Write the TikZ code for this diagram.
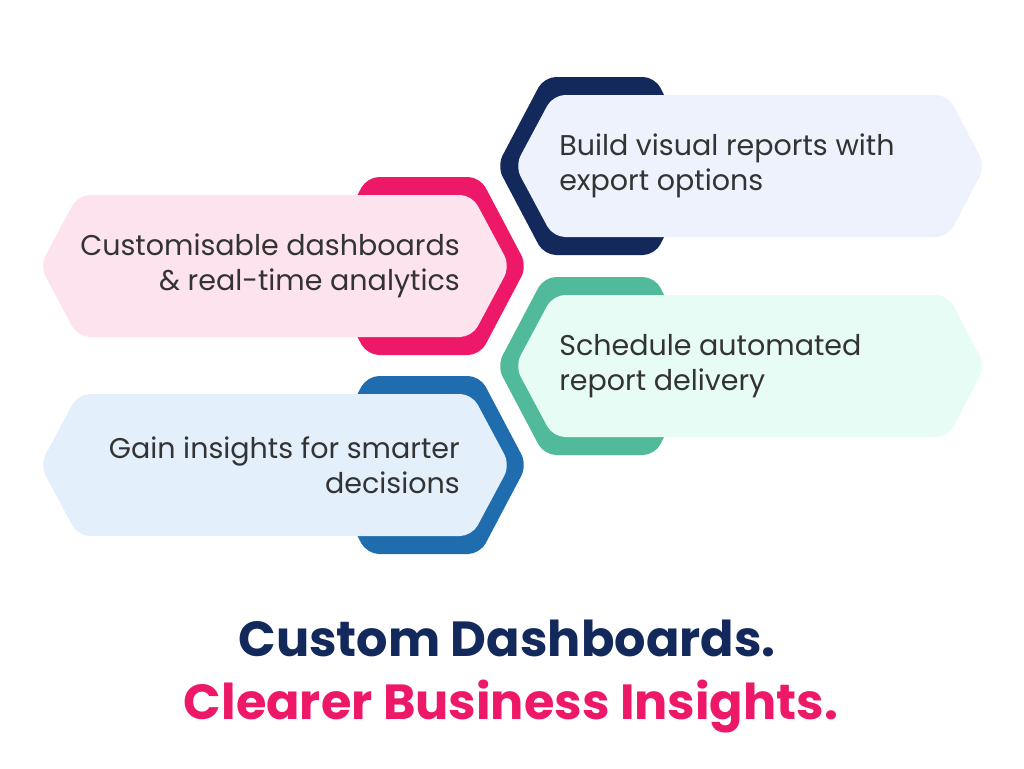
\documentclass[tikz,border=0pt]{standalone}
\usepackage{fontspec}
\setmainfont{Poppins}
\definecolor{navyC}{HTML}{13295B}
\definecolor{pinkC}{HTML}{EE1868}
\definecolor{greenC}{HTML}{50BA9B}
\definecolor{blueC}{HTML}{1F6DAF}
\definecolor{navyL}{HTML}{EEF2FC}
\definecolor{pinkL}{HTML}{FDE3EE}
\definecolor{greenL}{HTML}{E8FCF6}
\definecolor{blueL}{HTML}{E3F0FC}
\definecolor{textC}{HTML}{333333}
\usetikzlibrary{calc}

\begin{document}
\begin{tikzpicture}[x=0.75pt, y=-0.75pt]
    \tikzset{%
        itemtext/.style={text=textC, inner sep=0pt, font=\fontsize{21.4pt}{26pt}\selectfont},
        pics/lefthex/.style args={#1/#2/#3}{code={%
                        \fill [#1, rounded corners=9] (367, -89) -- (480, -89) -- (527, 0) -- (480, 89) -- (367, 89) -- (320, 0) -- cycle;
                        \fill [#2, rounded corners=9] (78, -71) -- (472, -71) -- (510, 0) -- (472, 71) -- (78, 71) -- (40, 0) -- cycle;
                        \node (-text) at (460, 0) [itemtext, anchor=east, align=right] {#3};
                    }
            },
        pics/righthex/.style args={#1/#2/#3}{code={%
                        \fill [#1, rounded corners=9] (544, -89) -- (655, -89) -- (700, 0) -- (655, 89) -- (544, 89) -- (497, 0) -- cycle;
                        \fill [#2, rounded corners=9] (553, -71) -- (948, -71) -- (985, 0) -- (948, 71) -- (553, 71) -- (515, 0) -- cycle;
                        \node (-text) at (559, 0) [itemtext, anchor=west, align=left] {#3};
                    }
            }
    }

    \fill [white] (0, 0) rectangle (1024, 768);

    \pic (reports) at (0, 166) {righthex=navyC/navyL/Build visual reports with\\export options};
    \pic (dashboards) at (0, 266) {lefthex=pinkC/pinkL/Customisable dashboards\\\& real-time analytics};
    \pic (delivery) at (0, 366) {righthex=greenC/greenL/Schedule automated\\report delivery};
    \pic (insights) at (0, 465) {lefthex=blueC/blueL/Gain insights for smarter\\decisions};

    \node (title) at (507, 638) [text=navyC, font=\fontsize{37pt}{40pt}\selectfont\bfseries] {Custom Dashboards.};
    \node (subtitle) at (511, 707) [text=pinkC, font=\fontsize{37pt}{40pt}\selectfont\bfseries] {Clearer Business Insights.};
\end{tikzpicture}
\end{document}
